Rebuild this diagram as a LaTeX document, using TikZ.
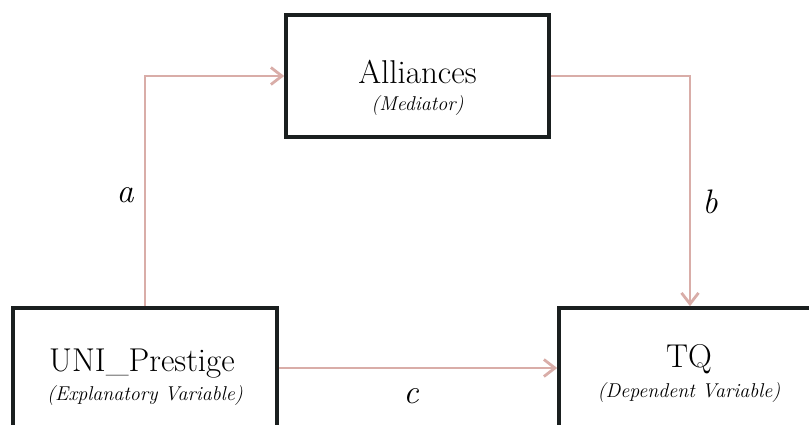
\documentclass[tikz,border=0pt]{standalone}
\usepackage{amsmath}
\usepackage{tikz}
\usetikzlibrary{arrows.meta}

\definecolor{linkpink}{RGB}{217,173,168}
\definecolor{boxdark}{RGB}{26,31,31}

\begin{document}
\begin{tikzpicture}[x=1pt,y=-1pt,
		varbox/.style={draw=boxdark,line width=3.6pt,fill=white,inner sep=0pt},
		varname/.style={font=\fontsize{33}{38}\selectfont},
		varrole/.style={font=\fontsize{20}{24}\selectfont\itshape},
		link/.style={draw=linkpink,line width=2.8pt,-{Straight Barb[length=11pt,width=17pt]}},
		pathlabel/.style={font=\fontsize{34}{38}\selectfont\itshape}]
			\useasboundingbox (0,0) rectangle (809,425);
			\clip (0,0) rectangle (809,425);
			\def\boxtop{308}
			\def\boxheight{120}
			
			% Draw the three boxes
			\node[varbox, minimum width=263, minimum height=122] (alliances) at (417.5,76) {};
			\node[varbox, minimum width=264, minimum height=\boxheight] (uni) at (145,{\boxtop+0.5*\boxheight}) {};
			\node[varbox, minimum width=262, minimum height=\boxheight] (tq) at (690,{\boxtop+0.5*\boxheight}) {};
			
			\node[varname] (alliancesname) at (417.5,72) {Alliances};
			\node[varrole] (alliancesrole) at (417.5,106) {(Mediator)};
			\node[varname] (uniname) at (142,364) {UNI\_Prestige};
			\node[varrole] (unirole) at (145,396) {(Explanatory Variable)};
			\node[varname] (tqname) at (689,359) {TQ};
			\node[varrole] (tqrole) at (689,393) {(Dependent Variable)};
			
			% Paths a, b and c
			\draw[link] (uni.north) |- (alliances.west);
			\draw[link] (alliances.east) -| (tq.north);
			\draw[link] (uni.east) -- (tq.west);
			
			\node[pathlabel] (pa) at (125,195) {a};
			\node[pathlabel] (pb) at (710,202) {b};
			\node[pathlabel] (pc) at (411,396) {c};
		\end{tikzpicture}
\end{document}
